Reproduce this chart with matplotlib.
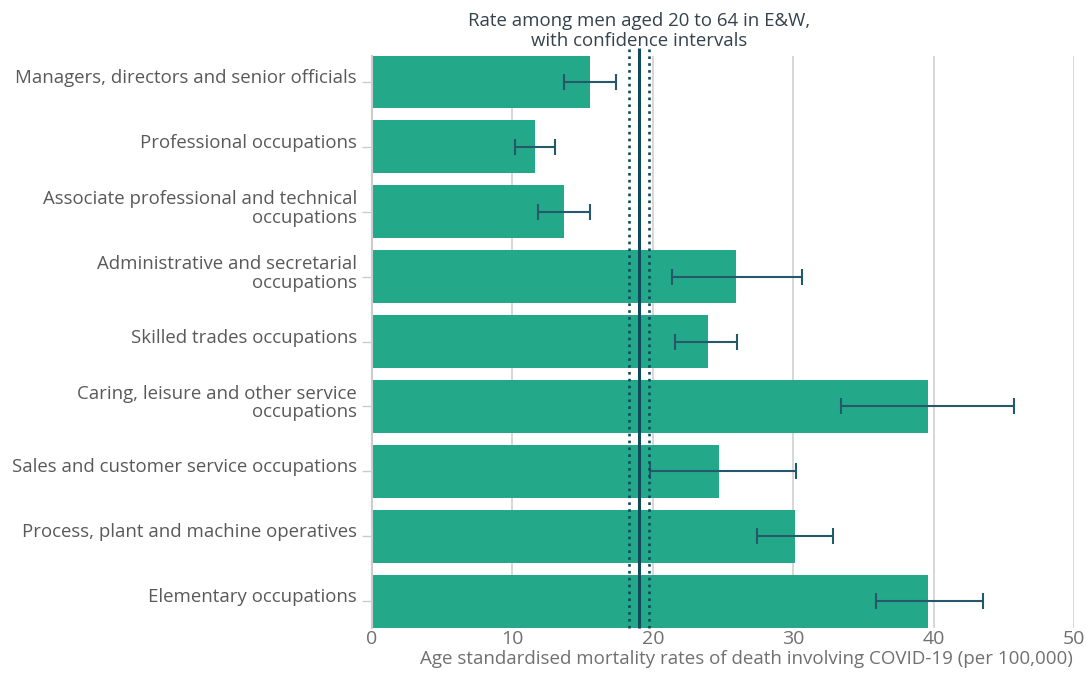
import matplotlib
matplotlib.use("Agg")
import matplotlib.pyplot as plt
import matplotlib.transforms as mtransforms
import numpy as np

plt.rcParams['font.family'] = ['Open Sans', 'DejaVu Sans']

categories = [
    "Managers, directors and senior officials",
    "Professional occupations",
    "Associate professional and technical\noccupations",
    "Administrative and secretarial\noccupations",
    "Skilled trades occupations",
    "Caring, leisure and other service\noccupations",
    "Sales and customer service occupations",
    "Process, plant and machine operatives",
    "Elementary occupations",
]
rates = [15.5, 11.6, 13.7, 25.9, 23.9, 39.6, 24.7, 30.1, 39.6]
lower = [13.7, 10.2, 11.8, 21.4, 21.6, 33.4, 19.8, 27.4, 35.9]
upper = [17.4, 13.0, 15.5, 30.6, 26.0, 45.7, 30.2, 32.8, 43.5]
overall_rate = 19.03
overall_lower = 18.32
overall_upper = 19.74
xticks = [0, 10, 20, 30, 40, 50]

BAR = "#23a98a"
DARK = "#0f4a5c"
ERR = "#24586a"

fig = plt.figure(figsize=(10.86, 6.73), dpi=100)
ax = fig.add_axes([372/1086, 1-627.5/673, (1074-372)/1086, (627.5-55.5)/673])

y = np.arange(len(categories))
h = 0.808
ax.barh(y, rates, height=h, color=BAR, zorder=2)
xerr = [np.array(rates) - np.array(lower), np.array(upper) - np.array(rates)]
ax.errorbar(rates, y, xerr=xerr, fmt='none', ecolor=ERR, elinewidth=1.5,
            capsize=5.8, capthick=1.5, zorder=4)

ax.set_xlim(0, 50)
ax.set_ylim(len(categories) - 1 + h/2, -h/2)

ax.set_xticks(xticks)
ax.set_xticklabels([str(t) for t in xticks])
ax.tick_params(axis='x', length=0, pad=2, labelsize=14, labelcolor="#707070")
ax.xaxis.grid(True, color="#d4d4d4", lw=1.3, zorder=0)
ax.set_axisbelow(True)

ax.set_yticks(y)
ax.set_yticklabels([])
ax.tick_params(axis='y', length=7, width=1, color="#cccccc", direction='out')

for s in ['top', 'right', 'bottom']:
    ax.spines[s].set_visible(False)
ax.spines['left'].set_color("#cccccc")
ax.spines['left'].set_linewidth(1.5)

# category labels (va='baseline' anchors the last line)
blend = mtransforms.blended_transform_factory(ax.transAxes, ax.transData)
for i, lab in enumerate(categories):
    n = lab.count("\n") + 1
    dy_px = 1 + 10.0 * (n - 1)  # positive = downward
    off = mtransforms.ScaledTranslation(-15/100, -dy_px/100, fig.dpi_scale_trans)
    ax.text(0, i, lab, transform=blend + off, ha='right', va='baseline',
            fontsize=13.4, color="#595959", linespacing=1.05)

# overall rate lines
ytop = -h/2 - 0.116
ybot = len(categories) - 1 + h/2
ax.plot([overall_rate, overall_rate], [ytop, ybot], color=DARK, lw=2.2,
        zorder=5, clip_on=False, solid_capstyle='butt')
for v in (overall_lower, overall_upper):
    ax.plot([v, v], [-h/2 - 0.1, ybot], color=DARK, lw=1.9, zorder=5,
            linestyle=(0, (1, 1.6)), dash_capstyle='butt', clip_on=False)

tblend = mtransforms.blended_transform_factory(ax.transData, fig.transFigure)
ax.text(overall_rate, 1 - 46.5/673,
        "Rate among men aged 20 to 64 in E&W,\nwith confidence intervals",
        transform=tblend, ha='center', va='baseline', fontsize=13.4,
        color="#34424d", linespacing=1.15)

fig.text(1073/1086, 1 - 659/673,
         "Age standardised mortality rates of death involving COVID-19 (per 100,000)",
         ha='right', va='center', fontsize=13.5, color="#707070")

fig.savefig("out.png", dpi=100)
